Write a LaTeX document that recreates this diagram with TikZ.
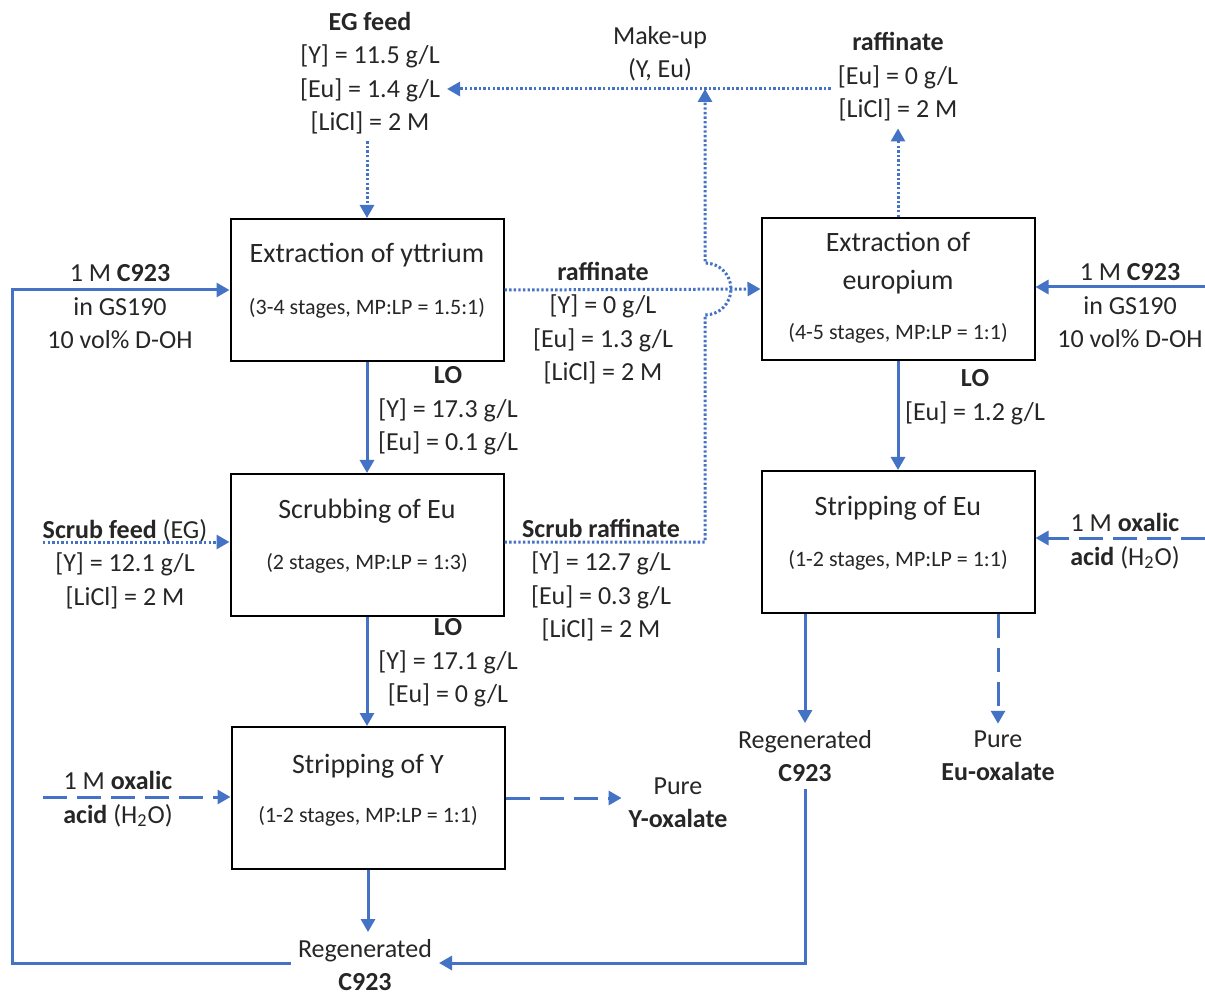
\documentclass[tikz,border=0pt]{standalone}
\usepackage{fontspec}
\setmainfont{Carlito}
\usetikzlibrary{arrows.meta}
\definecolor{flowblue}{RGB}{68,114,196}
\definecolor{inkgray}{RGB}{38,38,38}

\begin{document}
\begin{tikzpicture}[x=0.5pt, y=-0.5pt, text=inkgray,
    unit/.style ={draw=black, line width=1pt, minimum width=136.5pt, minimum height=71pt, inner sep=0pt},
    unittitle/.style ={align=center, font=\fontsize{14}{19}\selectfont},
    unitsub/.style ={font=\fontsize{11}{13}\selectfont},
    stream/.style ={align=center, font=\fontsize{13}{16.75}\selectfont},
    solidflow/.style ={draw=flowblue, line width=1.5pt, -{Triangle[length=6.5pt, width=7pt]}},
    dotflow/.style ={solidflow, dash pattern=on 1.2pt off 1.1pt},
    dashflow/.style ={solidflow, dash pattern=on 12pt off 5pt}]
   \useasboundingbox (0,0) rectangle (1205,994);

   % process units
   \node[unit] (exY)  at (367,290)  {};
   \node[unit] (scEu) at (367,545)  {};
   \node[unit] (stY)  at (368,798)  {};
   \node[unit] (exEu) at (898,289)  {};
   \node[unit] (stEu) at (898,542)  {};

   \node[unittitle] (exYt)  at (367,255) {Extraction of yttrium};
   \node[unitsub]   (exYs)  at (367,308) {(3-4 stages, MP:LP = 1.5:1)};
   \node[unittitle] (scEut) at (367,511) {Scrubbing of Eu};
   \node[unitsub]   (scEus) at (367,563) {(2 stages, MP:LP = 1:3)};
   \node[unittitle] (stYt)  at (368,766) {Stripping of Y};
   \node[unitsub]   (stYs)  at (368,816) {(1-2 stages, MP:LP = 1:1)};
   \node[unittitle] (exEut) at (898,263) {Extraction of\\europium};
   \node[unitsub]   (exEus) at (898,333) {(4-5 stages, MP:LP = 1:1)};
   \node[unittitle] (stEut) at (898,508) {Stripping of Eu};
   \node[unitsub]   (stEus) at (898,560) {(1-2 stages, MP:LP = 1:1)};

   % streams
   \node[stream] (egfeed)    at (370,73)   {\textbf{EG feed}\\{}[Y] = 11.5 g/L\\{}[Eu] = 1.4 g/L\\{}[LiCl] = 2 M};
   \node[stream] (makeup)    at (660,54)   {Make-up\\(Y, Eu)};
   \node[stream] (rafEu)     at (898,77)   {\textbf{raffinate}\\{}[Eu] = 0 g/L\\{}[LiCl] = 2 M};
   \node[stream] (c923L)     at (120,307)  {1 M \textbf{C923}\\in GS190\\10 vol\% D-OH};
   \node[stream] (rafY)      at (603,323)  {\textbf{raffinate}\\{}[Y] = 0 g/L\\{}[Eu] = 1.3 g/L\\{}[LiCl] = 2 M};
   \node[stream] (loY1)      at (448,411)  {\textbf{LO}\\{}[Y] = 17.3 g/L\\{}[Eu] = 0.1 g/L};
   \node[stream] (loEu)      at (975,397)  {\textbf{LO}\\{}[Eu] = 1.2 g/L};
   \node[stream] (c923R)     at (1130,306) {1 M \textbf{C923}\\in GS190\\10 vol\% D-OH};
   \node[stream] (scrubfeed) at (125,564)  {\textbf{Scrub feed} (EG)\\{}[Y] = 12.1 g/L\\{}[LiCl] = 2 M};
   \node[stream] (scrubraf)  at (601,580)  {\textbf{Scrub raffinate}\\{}[Y] = 12.7 g/L\\{}[Eu] = 0.3 g/L\\{}[LiCl] = 2 M};
   \node[stream] (loY2)      at (448,663)  {\textbf{LO}\\{}[Y] = 17.1 g/L\\{}[Eu] = 0 g/L};
   \node[stream] (oxR)       at (1125,541) {1 M \textbf{oxalic}\\\textbf{acid} (H\textsubscript{2}O)};
   \node[stream] (oxL)       at (118,799)  {1 M \textbf{oxalic}\\\textbf{acid} (H\textsubscript{2}O)};
   \node[stream] (pureY)     at (678,803)  {Pure\\\textbf{Y-oxalate}};
   \node[stream] (regenR)    at (805,756)  {Regenerated\\\textbf{C923}};
   \node[stream] (pureEu)    at (998,756)  {Pure\\\textbf{Eu-oxalate}};
   \node[stream] (regenL)    at (365,965)  {Regenerated\\\textbf{C923}};

   \coordinate (mk)    at (705,89);
   \coordinate (hop)   at (705,289);
   \coordinate (sr)    at (705,542);
   \coordinate (loopL) at (12,963);
   \coordinate (c9R)   at (1205,287);
   \coordinate (sfS)   at (43,542);
   \coordinate (oxLS)  at (43,797);
   \coordinate (oxRS)  at (1205,538);

   \draw[dotflow] (egfeed.south -| exY) to (exY);
   \draw[dotflow] (exY.east) to (exEu.west);
   \draw[dotflow] (exEu) to (exEu |- rafEu.south);
   \draw[dotflow] (rafEu.west |- mk) to (egfeed.east |- mk);
   \draw[dotflow] (scEu.east |- sr) -- (sr) -- ([yshift=-13pt]hop) arc[start angle=-90, end angle=90, radius=13pt] -- (mk);
   \draw[dotflow] (sfS) to (scEu.west |- sfS);

   \draw[solidflow] (exY) to (scEu);
   \draw[solidflow] (scEu) to (scEu |- stY.north);
   \draw[solidflow] (stY) to (stY |- regenL.north);
   \draw[solidflow] (exEu) to (stEu);
   \draw[solidflow] (c9R) to (exEu.east |- c9R);
   \draw[solidflow] (stEu.south -| regenR) to (regenR);
   \draw[solidflow] (regenL.west |- loopL) -- (loopL) |- (exY.west);
   \draw[solidflow] (regenR) |- (regenL.east |- loopL);

   \draw[dashflow] (oxLS) to (stY.west |- oxLS);
   \draw[dashflow] (oxRS) to (stEu.east |- oxRS);
   \draw[dashflow] (stY.east) to (stY.east -| pureY.west);
   \draw[dashflow] (stEu.south -| pureEu) to (pureEu);
%   \draw[dotflow] (scEu.east) to (exEu.west);
\end{tikzpicture}
\end{document}
